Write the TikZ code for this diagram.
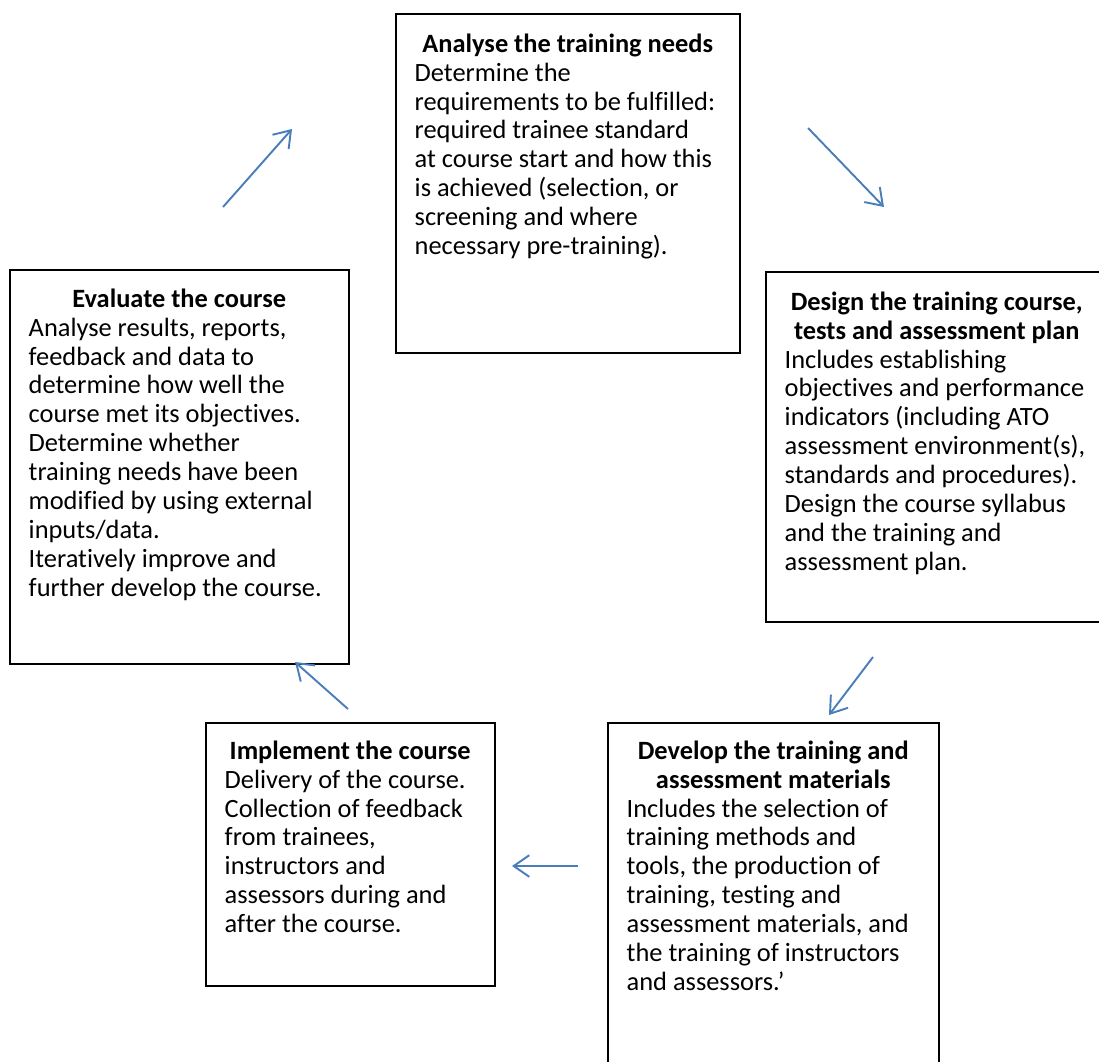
\documentclass[tikz,border=0pt]{standalone}
\usepackage{fontspec}
\setmainfont{Carlito}[Ligatures={TeX,NoCommon}]
\usepackage{tikz}
\usetikzlibrary{arrows.meta}
\usetikzlibrary{positioning}

\definecolor{cycleblue}{RGB}{74,126,187}
\newdimen\px
\px=0.4167pt
\newcommand{\headline}[2]{\makebox[#1\px][c]{\bfseries #2}}

\begin{document}
\begin{tikzpicture}[x=0.4167pt,y=-0.4167pt,>={Straight Barb[length=6.5pt,width=9pt]},
    semithick]
\tikzstyle{stage}=[draw, black, line width=0.8pt, anchor=north west, inner sep=0pt]
\tikzstyle{stagetext}=[align=left, inner sep=0pt, font=\fontsize{11}{12.04}\selectfont]
\tikzstyle{flow}=[->, cycleblue, line width=0.8pt]

\useasboundingbox (0,0) rectangle (1099,1061);

% the five boxes of the cycle
\node[stage, minimum width=344\px, minimum height=339\px] (analyse)   at (395,13)  {};
\node[stage, minimum width=342\px, minimum height=350\px] (design)    at (765,271) {};
\node[stage, minimum width=331\px, minimum height=360\px] (develop)   at (607,722) {};
\node[stage, minimum width=289\px, minimum height=263\px] (implement) at (205,722) {};
\node[stage, minimum width=339\px, minimum height=394\px] (evaluate)  at (9,269)   {};

\node[stagetext, below right=20\px and 19\px of analyse.north west] (analyse text)
    {\headline{306}{Analyse the training needs}\\
     Determine the\\
     requirements to be fulfilled:\\
     required trainee standard\\
     at course start and how this\\
     is achieved (selection, or\\
     screening and where\\
     necessary pre-training).};

\node[stagetext, below right=20\px and 19\px of design.north west] (design text)
    {\headline{304}{Design the training course,}\\
     \headline{304}{tests and assessment plan}\\
     Includes establishing\\
     objectives and performance\\
     indicators (including ATO\\
     assessment environment(s),\\
     standards and procedures).\\
     Design the course syllabus\\
     and the training and\\
     assessment plan.};

\node[stagetext, below right=18\px and 19\px of develop.north west] (develop text)
    {\headline{293}{Develop the training and}\\
     \headline{293}{assessment materials}\\
     Includes the selection of\\
     training methods and\\
     tools, the production of\\
     training, testing and\\
     assessment materials, and\\
     the training of instructors\\
     and assessors.’};

\node[stagetext, below right=18\px and 19\px of implement.north west] (implement text)
    {\headline{251}{Implement the course}\\
     Delivery of the course.\\
     Collection of feedback\\
     from trainees,\\
     instructors and\\
     assessors during and\\
     after the course.};

\node[stagetext, below right=19\px and 19\px of evaluate.north west] (evaluate text)
    {\headline{301}{Evaluate the course}\\
     Analyse results, reports,\\
     feedback and data to\\
     determine how well the\\
     course met its objectives.\\
     Determine whether\\
     training needs have been\\
     modified by using external\\
     inputs/data.\\
     Iteratively improve and\\
     further develop the course.};

% free ends of the arrows
\coordinate (evaluate out)  at (223,207);
\coordinate (analyse in)    at (292,129);
\coordinate (analyse out)   at (808,128);
\coordinate (design in)     at (884,207);
\coordinate (design out)    at (873,657);
\coordinate (develop in)    at (829,715);
\coordinate (develop out)   at (578,866);
\coordinate (implement in)  at (512,866);
\coordinate (implement out) at (348,709);
\coordinate (evaluate in)   at (295,662);

\path[flow] (evaluate out)  edge (analyse in)
            (analyse out)   edge (design in)
            (design out)    edge (develop in)
            (develop out)   edge (implement in)
            (implement out) edge (evaluate in);

\end{tikzpicture}
\end{document}
